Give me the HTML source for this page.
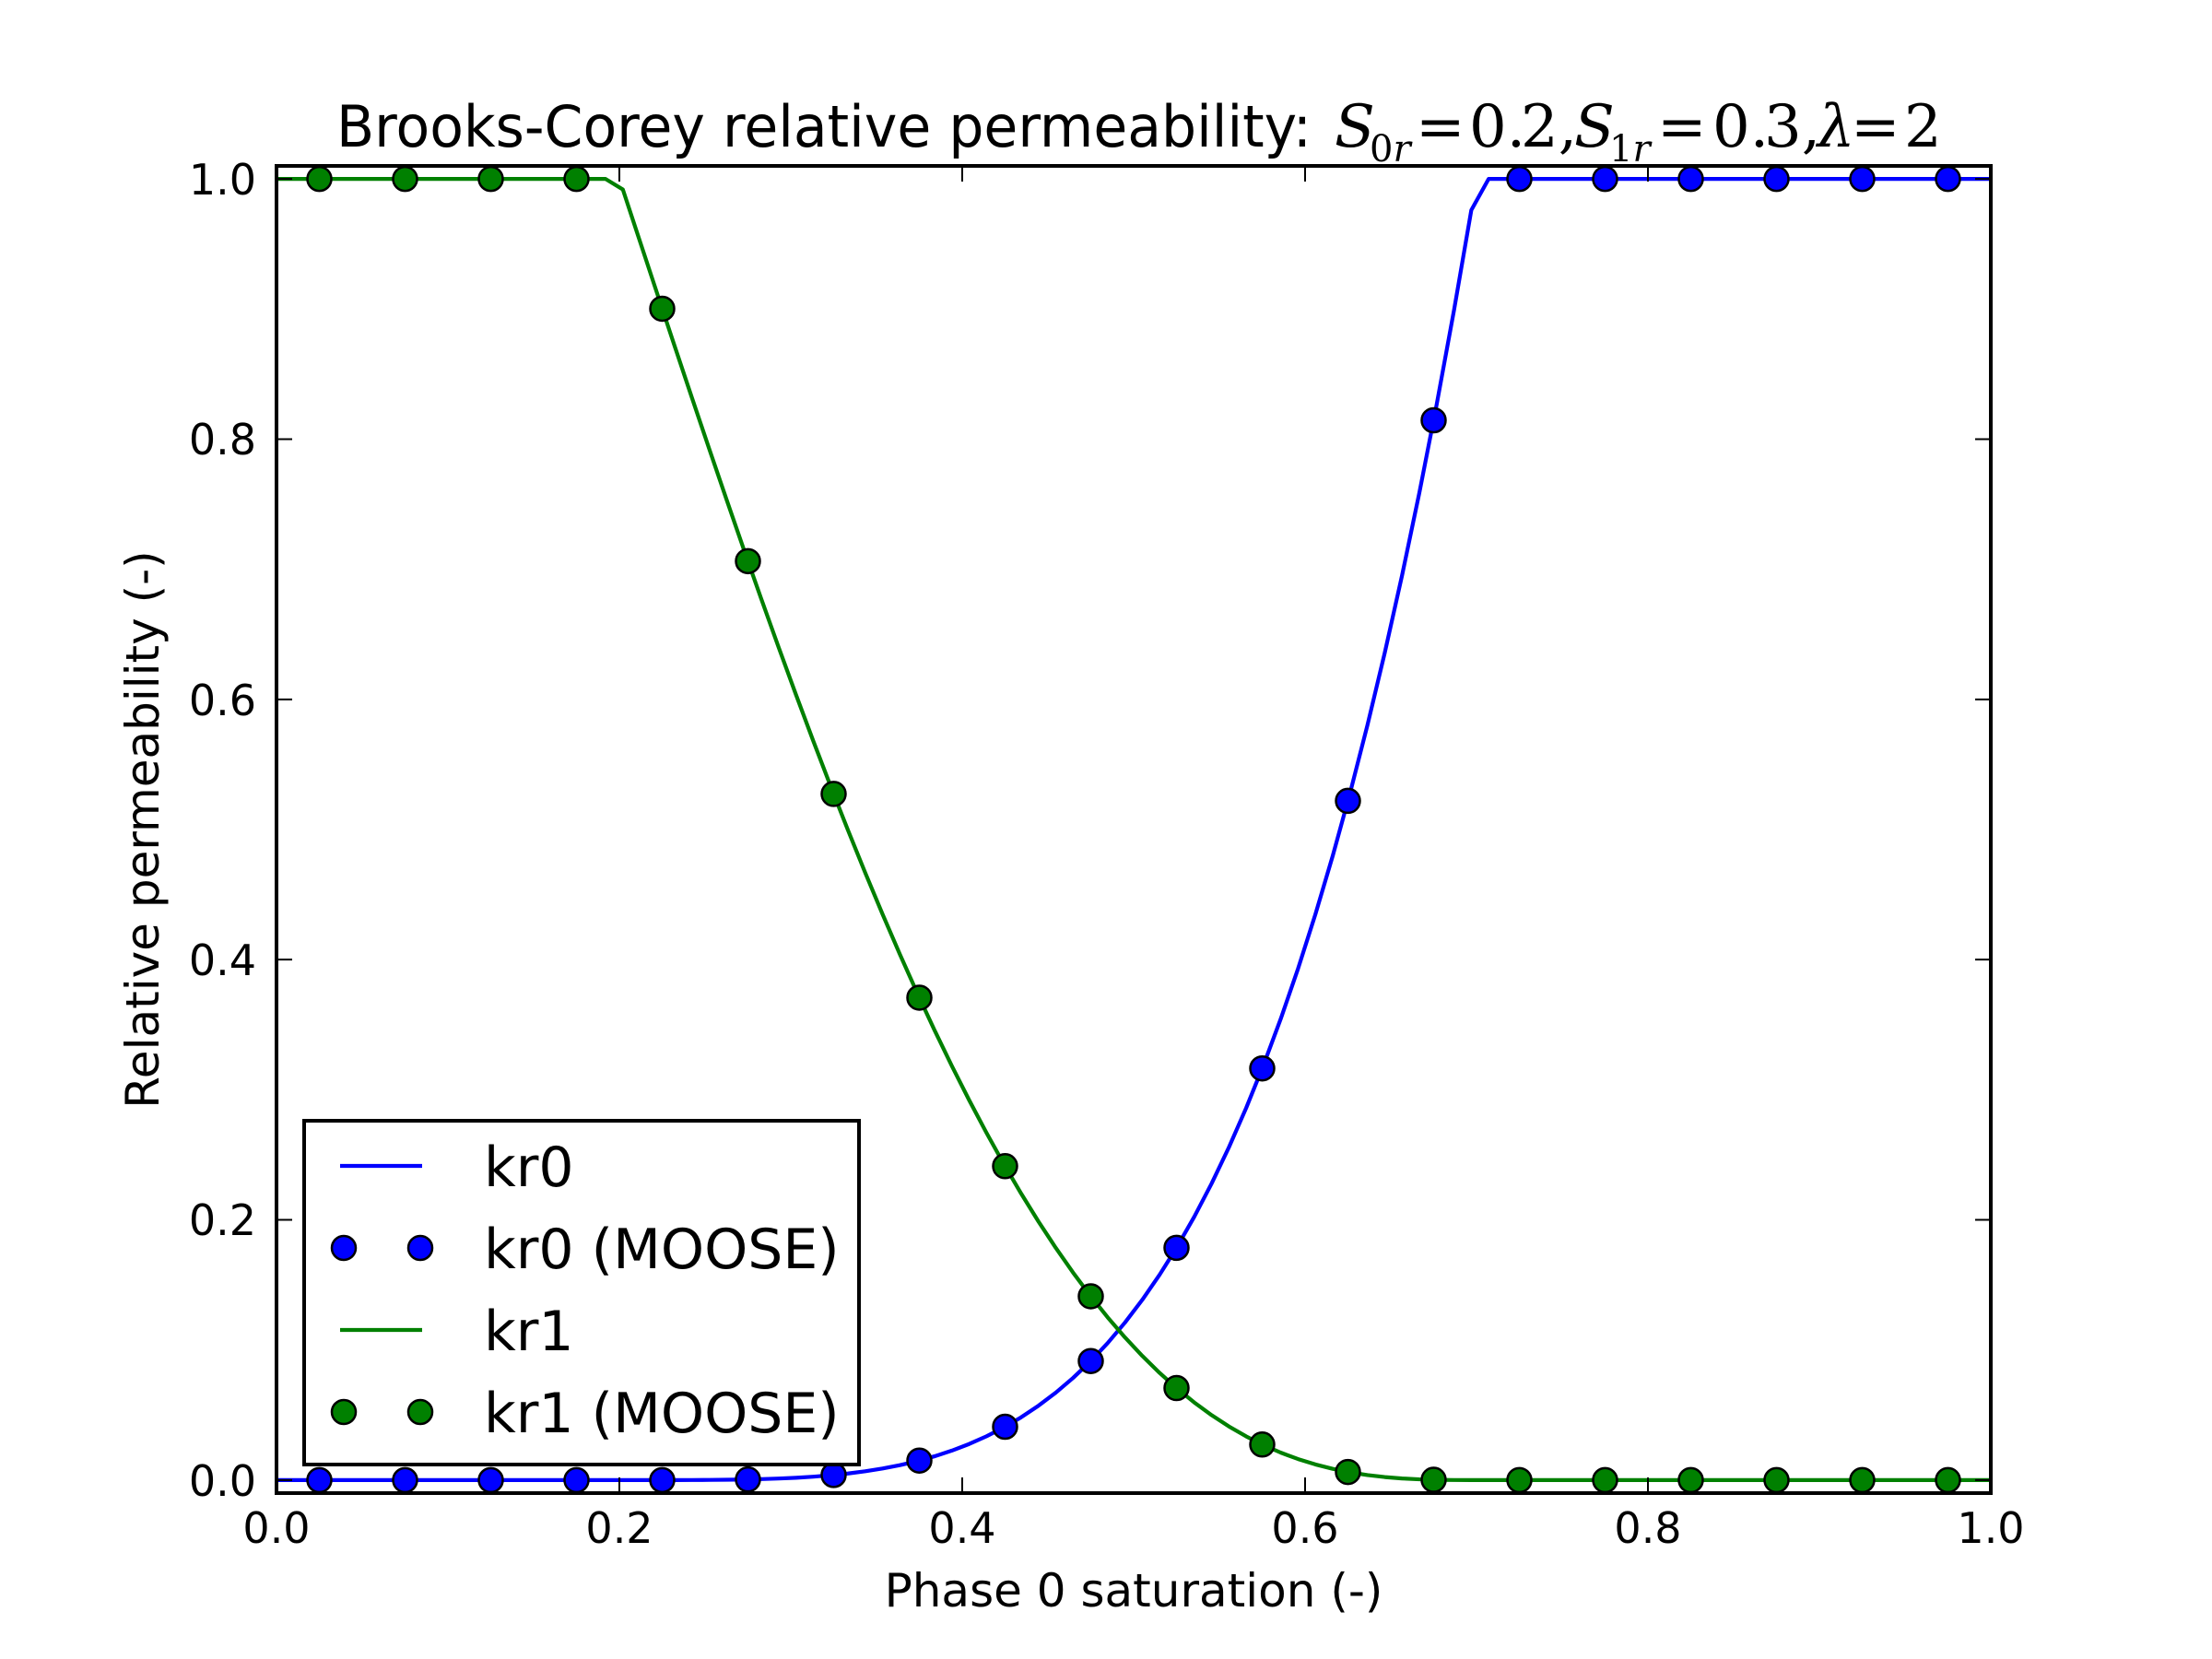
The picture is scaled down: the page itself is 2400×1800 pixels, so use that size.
<!DOCTYPE html>
<html><head><meta charset="utf-8"><style>
html,body{margin:0;padding:0;background:#fff}
svg{display:block}
text{font-family:"DejaVu Sans","Liberation Sans",sans-serif;fill:#000}
.m text{font-family:"DejaVu Serif","Liberation Serif",serif}
</style></head><body>
<svg id="s" width="2400" height="1800" viewBox="0 0 2400 1800" xmlns="http://www.w3.org/2000/svg">
<rect width="2400" height="1800" fill="#fff"/>
<defs><clipPath id="c"><rect x="300" y="180" width="1860" height="1440"/></clipPath></defs>
<g id="plot" clip-path="url(#c)"></g>
<g id="ticks" stroke="#000" stroke-width="2"></g>
<rect x="300" y="180" width="1860" height="1440" fill="none" stroke="#000" stroke-width="4"/>
<g font-size="46" text-anchor="middle">
<text x="300" y="1674">0.0</text><text x="672" y="1674">0.2</text><text x="1044" y="1674">0.4</text>
<text x="1416" y="1674">0.6</text><text x="1788" y="1674">0.8</text><text x="2160" y="1674">1.0</text>
</g>
<g font-size="46" text-anchor="end">
<text x="278" y="1623">0.0</text><text x="278" y="1340">0.2</text><text x="278" y="1058">0.4</text>
<text x="278" y="776">0.6</text><text x="278" y="493">0.8</text><text x="278" y="211">1.0</text>
</g>
<text x="1230" y="1743" font-size="50" text-anchor="middle">Phase 0 saturation (-)</text>
<text transform="translate(172,900) rotate(-90)" font-size="50" text-anchor="middle">Relative permeability (-)</text>
<text x="365" y="159" font-size="62" textLength="1058" lengthAdjust="spacingAndGlyphs">Brooks-Corey relative permeability:</text>
<g class="m" font-size="64">
<text x="1448" y="159" font-style="italic">S</text>
<text x="1486" y="175" font-size="40">0<tspan font-style="italic">r</tspan></text>
<text x="1536" y="159">=</text>
<text x="1594" y="159">0.</text><text x="1650" y="159">2,</text>
<text x="1708" y="159" font-style="italic">S</text>
<text x="1746" y="175" font-size="40">1<tspan font-style="italic">r</tspan></text>
<text x="1798" y="159">=</text>
<text x="1858" y="159">0.</text><text x="1914" y="159">3,</text>
<text x="1972" y="159" font-style="italic">λ</text>
<text x="2008" y="159">=</text>
<text x="2066" y="159">2</text>
</g>
<rect x="330" y="1216" width="602" height="373" fill="#fff" stroke="#000" stroke-width="4"/>
<line x1="369" y1="1265" x2="458" y2="1265" stroke="#0000ff" stroke-width="4.2"/>
<circle cx="373" cy="1354" r="13" fill="#0000ff" stroke="#000" stroke-width="2.5"/>
<circle cx="456" cy="1354" r="13" fill="#0000ff" stroke="#000" stroke-width="2.5"/>
<line x1="369" y1="1443" x2="458" y2="1443" stroke="#008000" stroke-width="4.2"/>
<circle cx="373" cy="1532" r="13" fill="#008000" stroke="#000" stroke-width="2.5"/>
<circle cx="456" cy="1532" r="13" fill="#008000" stroke="#000" stroke-width="2.5"/>
<g font-size="60">
<text x="525" y="1287">kr0</text><text x="525" y="1376">kr0 (MOOSE)</text>
<text x="525" y="1465">kr1</text><text x="525" y="1554">kr1 (MOOSE)</text>
</g>
</svg>
<script>
(function(){
var NS="http://www.w3.org/2000/svg";
function px(x){return 300+1860*x;}
function py(y){return 180+(1.01-y)*1440/1.02;}
function se(s){var v=(s-0.2)/0.5;return Math.max(0,Math.min(1,v));}
function k0(s){return Math.pow(se(s),4);}
function k1(s){var e=se(s);return (1-e)*(1-e)*(1-e*e);}
var plot=document.getElementById("plot");
function path(f,col){var d="";for(var i=0;i<100;i++){var s=i/99;d+=(i?"L":"M")+px(s).toFixed(2)+","+py(f(s)).toFixed(2);}
var p=document.createElementNS(NS,"path");p.setAttribute("d",d);p.setAttribute("fill","none");p.setAttribute("stroke",col);p.setAttribute("stroke-width","4.2");p.setAttribute("stroke-linejoin","round");plot.appendChild(p);}
function marks(f,col){for(var i=0;i<20;i++){var s=0.025+0.05*i;var c=document.createElementNS(NS,"circle");c.setAttribute("cx",px(s));c.setAttribute("cy",py(f(s)));c.setAttribute("r","13");c.setAttribute("fill",col);c.setAttribute("stroke","#000");c.setAttribute("stroke-width","2.5");plot.appendChild(c);}}
path(k0,"#0000ff");marks(k0,"#0000ff");path(k1,"#008000");marks(k1,"#008000");
var t=document.getElementById("ticks");
function ln(a,b,c,d){var l=document.createElementNS(NS,"line");l.setAttribute("x1",a);l.setAttribute("y1",b);l.setAttribute("x2",c);l.setAttribute("y2",d);t.appendChild(l);}
for(var i=0;i<=5;i++){var x=px(i*0.2);ln(x,1620,x,1603);ln(x,180,x,197);var y=py(i*0.2);ln(300,y,317,y);ln(2160,y,2143,y);}
})();
</script>
</body></html>
